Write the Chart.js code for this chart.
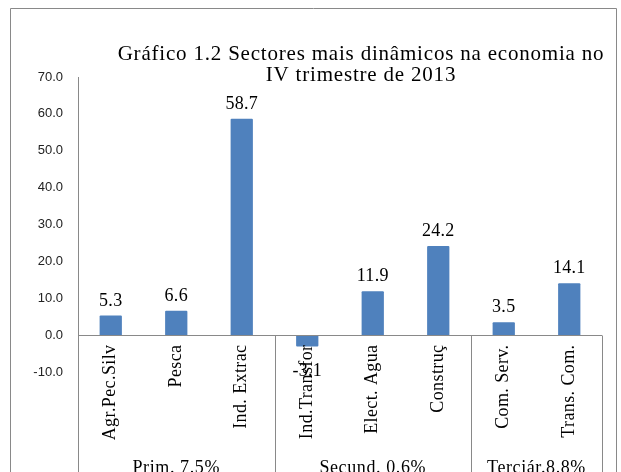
<!DOCTYPE html>
<html>
<head>
<meta charset="utf-8">
<style>
  html, body { margin: 0; padding: 0; background: #fff; }
  #wrap { width: 621px; height: 472px; }
</style>
<script src="https://cdn.jsdelivr.net/npm/chart.js@4.4.1/dist/chart.umd.min.js"></script>
</head>
<body>
<div id="wrap"><canvas id="chart" width="621" height="472"></canvas></div>
<script>
const titleLines = ["Gráfico 1.2 Sectores mais dinâmicos na economia no", "IV trimestre de 2013"];
const categories = ["Agr.Pec.Silv", "Pesca", "Ind. Extrac", "Ind.Transfor", "Elect. Agua", "Construç", "Com. Serv.", "Trans. Com."];
const values = [5.3, 6.6, 58.7, -3.1, 11.9, 24.2, 3.5, 14.1];
const groupLabels = ["Prim. 7.5%", "Secund. 0.6%", "Terciár.8.8%"];
const groupSizes = [3, 3, 2];
const yMin = -10, yMax = 70, yStep = 10;

const serif = "'Liberation Serif', 'Times New Roman', serif";
const lineColor = "#898989";

const decorations = {
  id: "decorations",
  beforeDraw(chart) {
    const c = chart.ctx;
    c.save();
    c.strokeStyle = lineColor;
    c.lineWidth = 1;
    c.beginPath();
    c.moveTo(10.5, 472);
    c.lineTo(10.5, 8.5);
    c.lineTo(616.5, 8.5);
    c.lineTo(616.5, 472);
    c.stroke();
    c.restore();
  },
  afterDraw(chart) {
    const c = chart.ctx;
    const x = chart.scales.x, y = chart.scales.y;
    const area = chart.chartArea;
    const y0 = Math.round(y.getPixelForValue(0)) + 0.5;
    c.save();

    // title
    c.fillStyle = "#000";
    c.font = "21px " + serif;
    c.letterSpacing = "0.8px";
    c.textAlign = "center";
    c.textBaseline = "alphabetic";
    c.fillText(titleLines[0], 361, 60);
    c.fillText(titleLines[1], 361, 81);

    // category axis line and group separators
    c.strokeStyle = lineColor;
    c.lineWidth = 1;
    c.beginPath();
    c.moveTo(area.left, y0);
    c.lineTo(area.right, y0);
    const step = (area.right - area.left) / categories.length;
    let idx = 0;
    const bounds = [area.left];
    groupSizes.forEach((n) => { idx += n; bounds.push(area.left + idx * step); });
    bounds.forEach((bx) => {
      const px = Math.round(bx) + 0.5;
      c.moveTo(px, y0);
      c.lineTo(px, 472);
    });
    c.stroke();

    // category labels, rotated
    c.font = "18px " + serif;
    c.letterSpacing = "0.4px";
    c.textAlign = "right";
    c.textBaseline = "middle";
    categories.forEach((lab, i) => {
      const px = x.getPixelForValue(i);
      c.save();
      c.translate(px, y0 + 9);
      c.rotate(-Math.PI / 2);
      c.fillText(lab, 0, 0);
      c.restore();
    });

    // group labels
    c.textAlign = "center";
    c.textBaseline = "alphabetic";
    c.letterSpacing = "0.6px";
    for (let g = 0; g < groupLabels.length; g++) {
      c.fillText(groupLabels[g], (bounds[g] + bounds[g + 1]) / 2, 473);
    }

    // data labels
    c.letterSpacing = "0.3px";
    const meta = chart.getDatasetMeta(0);
    meta.data.forEach((bar, i) => {
      const v = values[i];
      const txt = v.toFixed(1);
      if (v >= 0) {
        c.textBaseline = "alphabetic";
        c.fillText(txt, bar.x, bar.y - 10);
      } else {
        c.textBaseline = "top";
        c.fillText(txt, bar.x, bar.y + 16);
      }
    });
    c.restore();
  }
};

new Chart(document.getElementById("chart"), {
  type: "bar",
  data: {
    labels: categories,
    datasets: [{
      data: values,
      backgroundColor: "#4f81bd",
      borderWidth: 0,
      borderRadius: 1,
      barPercentage: 0.34,
      categoryPercentage: 1.0
    }]
  },
  options: {
    responsive: false,
    animation: false,
    layout: { padding: { left: 10, top: 77, right: 19, bottom: 100 } },
    plugins: {
      legend: { display: false },
      title: { display: false },
      tooltip: { enabled: false }
    },
    scales: {
      x: { display: false },
      y: {
        min: yMin,
        max: yMax,
        afterFit(scale) { scale.width = 68; },
        grid: { display: false, drawTicks: false },
        border: { display: true, color: lineColor, width: 1 },
        ticks: {
          stepSize: yStep,
          padding: 15,
          color: "#222",
          font: { family: "'Liberation Sans', Arial, sans-serif", size: 13 },
          callback: (v) => v.toFixed(1)
        }
      }
    }
  },
  plugins: [decorations]
});
</script>
</body>
</html>
